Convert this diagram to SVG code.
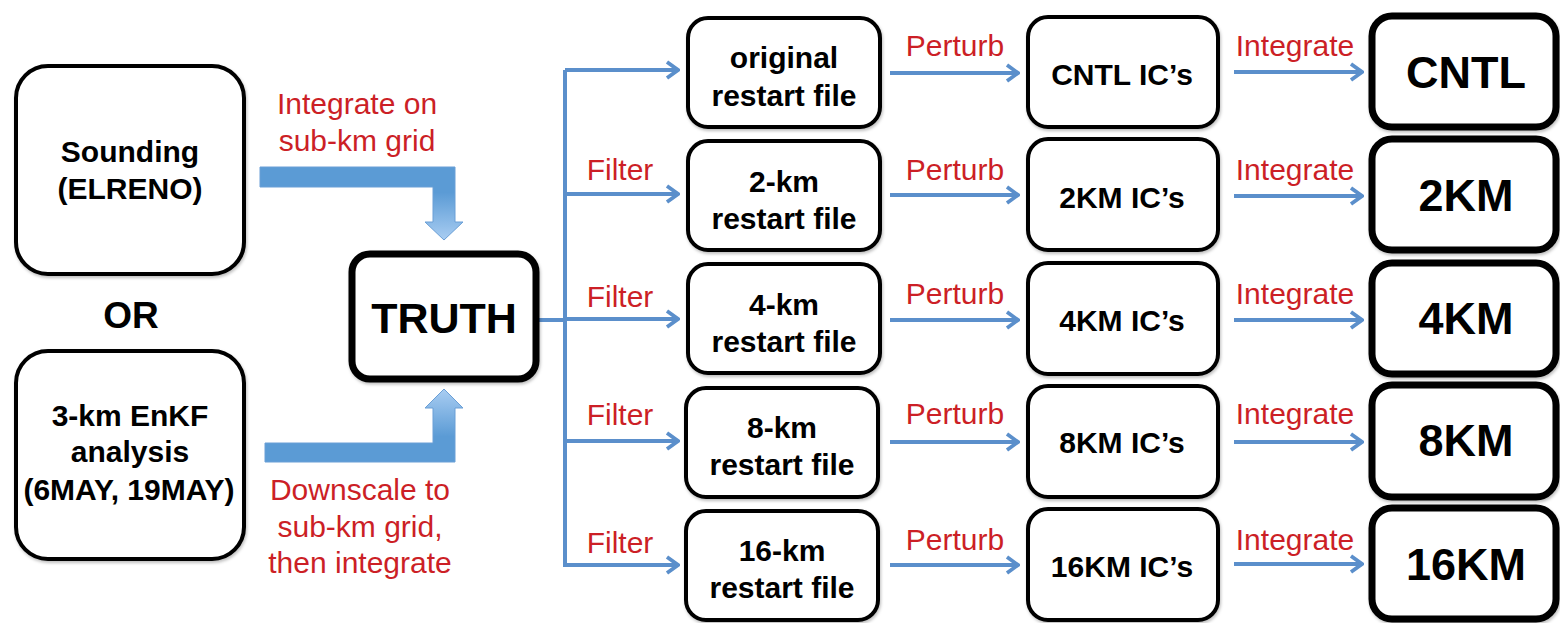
<svg xmlns="http://www.w3.org/2000/svg" width="1560" height="623" viewBox="0 0 1560 623">
  <style>
    .box { fill: #ffffff; stroke: #000000; stroke-width: 4; filter: url(#shadow); }
    .heavy { fill: #ffffff; stroke: #000000; stroke-width: 7; filter: url(#shadow); }
    .lbl { font-family: "Liberation Sans", Arial, sans-serif; font-weight: bold; font-size: 30px; fill: #000; text-anchor: middle; }
    .big { font-family: "Liberation Sans", Arial, sans-serif; font-weight: bold; font-size: 45px; fill: #000; text-anchor: middle; }
    .red { font-family: "Liberation Sans", Arial, sans-serif; font-size: 30px; fill: #cc1f26; text-anchor: middle; }
    .line { fill: none; stroke: #5b8fcb; stroke-width: 4; }
    .arr { fill: none; stroke: #5b8fcb; stroke-width: 4; marker-end: url(#head); }
  </style>
  <defs>
    <filter id="shadow" x="-10%" y="-10%" width="120%" height="125%">
      <feDropShadow dx="1" dy="2" stdDeviation="1.5" flood-color="#000" flood-opacity="0.25"/>
    </filter>
    <marker id="head" viewBox="0 0 16 20" refX="14" refY="10" markerWidth="16" markerHeight="20" markerUnits="userSpaceOnUse" orient="auto">
      <path d="M3,2 L14,10 L3,18" fill="none" stroke="#5b8fcb" stroke-width="3.8"/>
    </marker>
    <linearGradient id="gDown" gradientUnits="userSpaceOnUse" x1="0" y1="167" x2="0" y2="240">
      <stop offset="0" stop-color="#5b9bd5"/>
      <stop offset="0.35" stop-color="#5b9bd5"/>
      <stop offset="1" stop-color="#a9cdf2"/>
    </linearGradient>
    <linearGradient id="gUp" gradientUnits="userSpaceOnUse" x1="0" y1="462" x2="0" y2="389">
      <stop offset="0" stop-color="#5b9bd5"/>
      <stop offset="0.35" stop-color="#5b9bd5"/>
      <stop offset="1" stop-color="#a9cdf2"/>
    </linearGradient>
  </defs>
  <rect width="1560" height="623" fill="#ffffff"/>

  <!-- connectors -->
  <g id="connectors">
    <!-- block arrows into TRUTH -->
    <polygon points="260,167 455,167 455,222 463,222 444,240 425,222 433,222 433,187 260,187" fill="url(#gDown)" stroke="#6a9fd6" stroke-width="1"/>
    <polygon points="265,462 455,462 455,408 463,408 444,389 425,408 433,408 433,443 265,443" fill="url(#gUp)" stroke="#6a9fd6" stroke-width="1"/>
    <!-- TRUTH distribution trunk -->
    <path class="line" d="M538,320 H565"/>
    <path class="line" d="M565,70 V567"/>
    <path class="arr" d="M565,70 H678"/>
    <path class="arr" d="M565,194 H678"/>
    <path class="arr" d="M565,319 H678"/>
    <path class="arr" d="M565,441 H678"/>
    <path class="arr" d="M563,565 H678"/>
    <!-- Perturb -->
    <path class="arr" d="M890,73 H1018"/>
    <path class="arr" d="M890,195 H1018"/>
    <path class="arr" d="M890,320 H1018"/>
    <path class="arr" d="M890,442 H1018"/>
    <path class="arr" d="M890,565 H1018"/>
    <!-- Integrate -->
    <path class="arr" d="M1234,72 H1362"/>
    <path class="arr" d="M1234,196 H1362"/>
    <path class="arr" d="M1234,320 H1362"/>
    <path class="arr" d="M1234,442 H1362"/>
    <path class="arr" d="M1234,564 H1362"/>
    <!-- labels -->
    <text class="red" x="357" y="114">Integrate on</text>
    <text class="red" x="357" y="151">sub-km grid</text>
    <text class="red" x="360" y="500">Downscale to</text>
    <text class="red" x="360" y="537">sub-km grid,</text>
    <text class="red" x="360" y="573">then integrate</text>
    <text class="red" x="620" y="180">Filter</text>
    <text class="red" x="620" y="307">Filter</text>
    <text class="red" x="620" y="425">Filter</text>
    <text class="red" x="620" y="553">Filter</text>
    <text class="red" x="955" y="56">Perturb</text>
    <text class="red" x="955" y="180">Perturb</text>
    <text class="red" x="955" y="304">Perturb</text>
    <text class="red" x="955" y="424">Perturb</text>
    <text class="red" x="955" y="550">Perturb</text>
    <text class="red" x="1295" y="56">Integrate</text>
    <text class="red" x="1295" y="180">Integrate</text>
    <text class="red" x="1295" y="304">Integrate</text>
    <text class="red" x="1295" y="424">Integrate</text>
    <text class="red" x="1295" y="550">Integrate</text>
  </g>

  <!-- sources -->
  <g id="sounding">
    <rect class="box" x="16" y="66" width="228" height="208" rx="32"/>
    <text class="lbl" x="130" y="162">Sounding</text>
    <text class="lbl" x="130" y="199">(ELRENO)</text>
  </g>
  <g id="or-label">
    <text class="lbl" x="131" y="328" style="font-size:37px">OR</text>
  </g>
  <g id="enkf">
    <rect class="box" x="16" y="351" width="228" height="208" rx="32"/>
    <text class="lbl" x="130" y="426">3-km EnKF</text>
    <text class="lbl" x="130" y="462">analysis</text>
    <text class="lbl" x="129" y="500">(6MAY, 19MAY)</text>
  </g>
  <g id="truth">
    <rect class="heavy" x="352" y="254" width="184" height="125" rx="18"/>
    <text class="lbl" x="444" y="333" style="font-size:43px">TRUTH</text>
  </g>

  <!-- restart files -->
  <g id="restart-original">
    <rect class="box" x="688" y="18" width="192" height="109" rx="20"/>
    <text class="lbl" x="784" y="68">original</text>
    <text class="lbl" x="784" y="106">restart file</text>
  </g>
  <g id="restart-2km">
    <rect class="box" x="688" y="141" width="192" height="109" rx="20"/>
    <text class="lbl" x="784" y="192">2-km</text>
    <text class="lbl" x="784" y="229">restart file</text>
  </g>
  <g id="restart-4km">
    <rect class="box" x="688" y="264" width="192" height="109" rx="20"/>
    <text class="lbl" x="784" y="315">4-km</text>
    <text class="lbl" x="784" y="352">restart file</text>
  </g>
  <g id="restart-8km">
    <rect class="box" x="686" y="388" width="192" height="109" rx="20"/>
    <text class="lbl" x="782" y="438">8-km</text>
    <text class="lbl" x="782" y="475">restart file</text>
  </g>
  <g id="restart-16km">
    <rect class="box" x="686" y="511" width="192" height="109" rx="20"/>
    <text class="lbl" x="782" y="561">16-km</text>
    <text class="lbl" x="782" y="598">restart file</text>
  </g>

  <!-- initial conditions -->
  <g id="ic-cntl">
    <rect class="box" x="1028" y="17" width="190" height="110" rx="20"/>
    <text class="lbl" x="1122" y="85">CNTL IC’s</text>
  </g>
  <g id="ic-2km">
    <rect class="box" x="1028" y="139" width="190" height="111" rx="20"/>
    <text class="lbl" x="1122" y="208">2KM IC’s</text>
  </g>
  <g id="ic-4km">
    <rect class="box" x="1028" y="263" width="190" height="111" rx="20"/>
    <text class="lbl" x="1122" y="331">4KM IC’s</text>
  </g>
  <g id="ic-8km">
    <rect class="box" x="1028" y="386" width="190" height="111" rx="20"/>
    <text class="lbl" x="1122" y="453">8KM IC’s</text>
  </g>
  <g id="ic-16km">
    <rect class="box" x="1028" y="509" width="190" height="111" rx="20"/>
    <text class="lbl" x="1122" y="577">16KM IC’s</text>
  </g>

  <!-- forecasts -->
  <g id="fc-cntl">
    <rect class="heavy" x="1372" y="16" width="184" height="111" rx="20"/>
    <text class="big" x="1466" y="88">CNTL</text>
  </g>
  <g id="fc-2km">
    <rect class="heavy" x="1372" y="139" width="184" height="111" rx="20"/>
    <text class="big" x="1466" y="211">2KM</text>
  </g>
  <g id="fc-4km">
    <rect class="heavy" x="1372" y="263" width="184" height="111" rx="20"/>
    <text class="big" x="1466" y="334">4KM</text>
  </g>
  <g id="fc-8km">
    <rect class="heavy" x="1372" y="385" width="184" height="112" rx="20"/>
    <text class="big" x="1466" y="456">8KM</text>
  </g>
  <g id="fc-16km">
    <rect class="heavy" x="1372" y="508" width="184" height="111" rx="20"/>
    <text class="big" x="1466" y="580">16KM</text>
  </g>
</svg>
